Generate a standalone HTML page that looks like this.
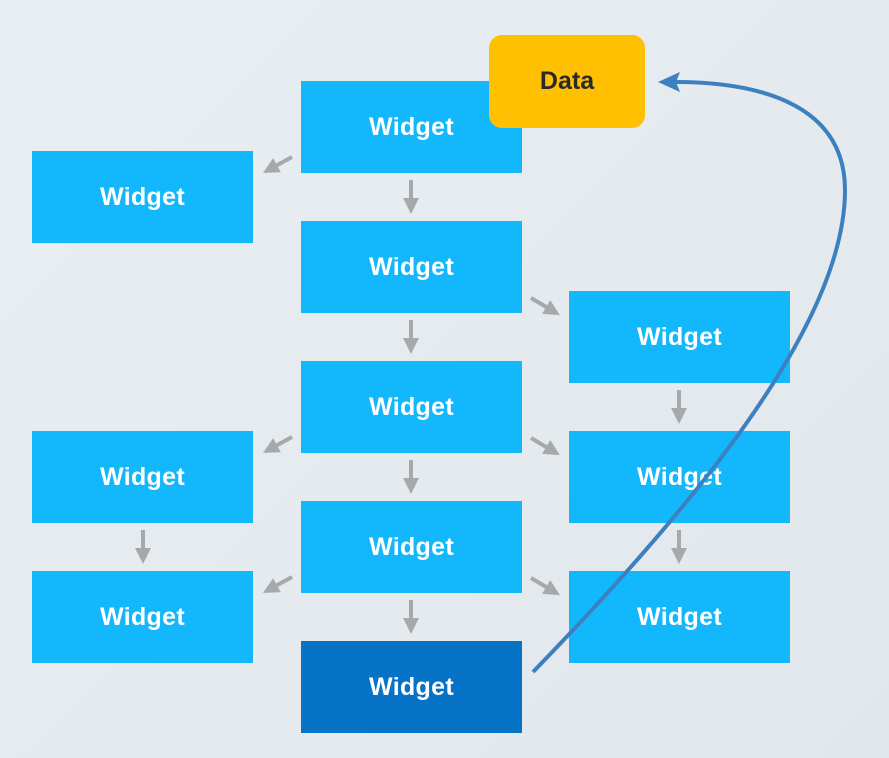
<!DOCTYPE html>
<html><head><style>
html,body{margin:0;padding:0}
body{width:889px;height:758px;position:relative;overflow:hidden;background:linear-gradient(135deg,#e8eef2,#e1e7eb);font-family:"Liberation Sans",sans-serif}
.w{position:absolute;width:221px;height:92px;background:#12b8fb;color:#fff;font-weight:bold;font-size:25px;display:flex;align-items:center;justify-content:center;letter-spacing:0.3px}
.d{background:#0673c6}
.data{position:absolute;left:489px;top:35px;width:156px;height:93px;background:#fec000;border-radius:13px;color:#2a2a2a;font-weight:bold;font-size:25px;display:flex;align-items:center;justify-content:center}
svg{position:absolute;left:0;top:0}
</style></head><body>
<div class="w" style="left:301px;top:81px">Widget</div>
<div class="w" style="left:301px;top:221px">Widget</div>
<div class="w" style="left:301px;top:361px">Widget</div>
<div class="w" style="left:301px;top:501px">Widget</div>
<div class="w d" style="left:301px;top:641px">Widget</div>
<div class="w" style="left:32px;top:151px">Widget</div>
<div class="w" style="left:32px;top:431px">Widget</div>
<div class="w" style="left:32px;top:571px">Widget</div>
<div class="w" style="left:569px;top:291px">Widget</div>
<div class="w" style="left:569px;top:431px">Widget</div>
<div class="w" style="left:569px;top:571px">Widget</div>
<div class="data">Data</div>
<svg width="889" height="758">
<defs>
<marker id="g" markerWidth="4" markerHeight="4" refX="2" refY="2" orient="auto" markerUnits="strokeWidth"><path d="M0,0L4,2L0,4Z" fill="#a6a9ab"/></marker>
</defs>
<g stroke="#a6a9ab" stroke-width="4" marker-end="url(#g)">
<line x1="411" y1="180" x2="411" y2="206"/>
<line x1="411" y1="320" x2="411" y2="346"/>
<line x1="411" y1="460" x2="411" y2="486"/>
<line x1="411" y1="600" x2="411" y2="626"/>
<line x1="143" y1="530" x2="143" y2="556"/>
<line x1="679" y1="390" x2="679" y2="416"/>
<line x1="679" y1="530" x2="679" y2="556"/>
<line x1="292" y1="157" x2="270" y2="169"/>
<line x1="292" y1="437" x2="270" y2="449"/>
<line x1="292" y1="577" x2="270" y2="589"/>
<line x1="531" y1="298" x2="553" y2="311"/>
<line x1="531" y1="438" x2="553" y2="451"/>
<line x1="531" y1="578" x2="553" y2="591"/>
</g>
<path d="M533,672 C680,520 845,330 845,190 C845,110 770,82 675,82" fill="none" stroke="#3d80bf" stroke-width="4"/>
<path d="M658,82 L680,72 L676,82 L680,92 Z" fill="#3d80bf"/>
</svg>
</body></html>
